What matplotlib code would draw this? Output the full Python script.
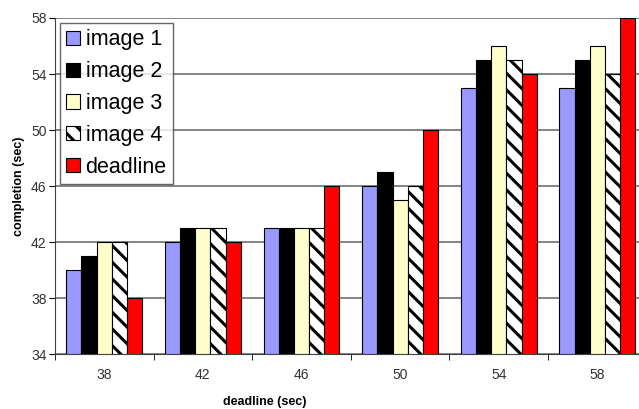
import numpy as np
import matplotlib.pyplot as plt

plt.rcParams["font.family"] = ["Liberation Sans", "DejaVu Sans"]
plt.rcParams["hatch.linewidth"] = 2.2

deadlines = ["38", "42", "46", "50", "54", "58"]
image1 = [40, 42, 43, 46, 53, 53]
image2 = [41, 43, 43, 47, 55, 55]
image3 = [42, 43, 43, 45, 56, 56]
image4 = [42, 43, 43, 46, 55, 54]
deadline = [38, 42, 46, 50, 54, 58]

series = [
    ("image 1", image1, "#9999FF", None),
    ("image 2", image2, "#000000", None),
    ("image 3", image3, "#FFFFCC", None),
    ("image 4", image4, "#FFFFFF", "\\\\"),
    ("deadline", deadline, "#FF0000", None),
]

fig = plt.figure(figsize=(6.39, 4.09), dpi=100)
ax = fig.add_axes([0.086, 0.134, 1.012 - 0.086, 0.956 - 0.134])

x = np.arange(len(deadlines))
w = 0.154
for i, (name, vals, col, hatch) in enumerate(series):
    ax.bar(x + (i - 2) * w, np.array(vals) - 34, bottom=34, width=w,
           color=col, edgecolor="black", linewidth=0.8, hatch=hatch,
           label=name, zorder=3)

ax.set_xlim(-0.5, len(deadlines) - 0.5)
ax.set_ylim(34, 58)
ax.set_yticks(range(34, 59, 4))
ax.set_xticks(x)
ax.set_xticklabels(deadlines)
ax.set_xticks(np.arange(-0.5, len(deadlines), 1), minor=True)
ax.tick_params(axis="x", which="major", length=0, pad=10, labelsize=10, labelcolor="#333333")
ax.tick_params(axis="x", which="minor", length=4, direction="out")
ax.tick_params(axis="y", length=4, direction="out", labelsize=10, labelcolor="#333333", pad=2)

ax.grid(axis="y", color="#707070", linewidth=1.2, zorder=0)
for s in ["top", "right"]:
    ax.spines[s].set_visible(False)
ax.spines["left"].set_color("#404040")
ax.spines["bottom"].set_color("#404040")

ax.set_ylabel("completion (sec)", fontsize=9, fontweight="bold", labelpad=4)
ax.set_xlabel("deadline (sec)", fontsize=9, fontweight="bold")
ax.xaxis.set_label_coords(0.354, -0.125)

leg = ax.legend(loc="upper left", bbox_to_anchor=(0.008, 0.985), fontsize=15.5,
                frameon=True, fancybox=False, edgecolor="#404040",
                handlelength=0.65, handleheight=0.65, handletextpad=0.25,
                labelspacing=0.5, borderpad=0.3, borderaxespad=0)
leg.get_frame().set_linewidth(1.0)

fig.savefig("out.png", dpi=100)
